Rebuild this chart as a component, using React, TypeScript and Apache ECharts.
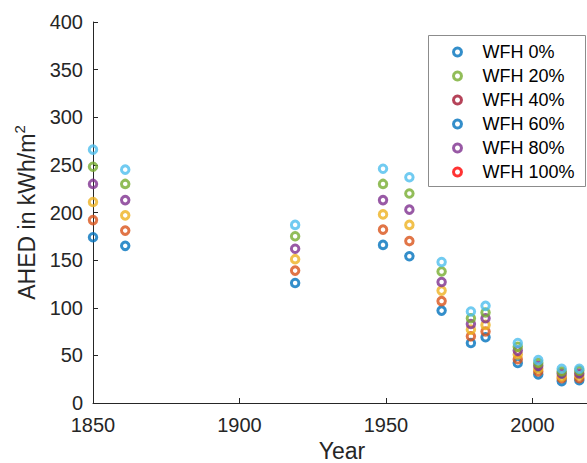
import React, { useEffect, useRef } from "react";
import * as echarts from "echarts";

const years = [1850, 1861, 1919, 1949, 1958, 1969, 1979, 1984, 1995, 2002, 2010, 2016];
const wfh0 = [174, 165, 126, 166, 154, 97, 63, 69, 42, 30, 23, 24];
const wfh20 = [192, 181, 139, 182, 170, 107, 70, 75, 46, 33, 26, 26];
const wfh40 = [211, 197, 151, 198, 187, 118, 77, 82, 51, 36, 28, 29];
const wfh60 = [230, 213, 162, 213, 203, 127, 83, 89, 55, 39, 31, 31];
const wfh80 = [248, 230, 175, 230, 220, 138, 89, 95, 59, 42, 33, 34];
const wfh100 = [266, 245, 187, 246, 237, 148, 96, 102, 63, 45, 36, 36];

const seriesNames = ["WFH 0%", "WFH 20%", "WFH 40%", "WFH 60%", "WFH 80%", "WFH 100%"];
const seriesValues = [wfh0, wfh20, wfh40, wfh60, wfh80, wfh100];
const markerColors = ["#0072BD", "#D95319", "#EDB120", "#7E2F8E", "#77AC30", "#4DBEEE"];
const legendColors = ["#0072BD", "#77AC30", "#A2142F", "#0072BD", "#7E2F8E", "#FF0000"];

const FONT = "Liberation Sans, Arial, Helvetica, sans-serif";
const AXIS = "#262626";

export default function App() {
  const ref = useRef<HTMLDivElement>(null);
  useEffect(() => {
    if (!ref.current) return;
    const chart = echarts.init(ref.current, undefined, { renderer: "svg" });
    chart.setOption({
      animation: false,
      backgroundColor: "#ffffff",
      textStyle: { fontFamily: FONT },
      grid: { left: 93, top: 22, width: 498, height: 381, containLabel: false, outerBoundsMode: "none" },
      xAxis: {
        type: "value",
        min: 1850,
        max: 2020,
        interval: 50,
        name: "Year",
        nameLocation: "middle",
        nameGap: 36,
        nameTextStyle: { fontSize: 23, lineHeight: 23, color: AXIS, fontFamily: FONT },
        axisLine: { show: true, lineStyle: { color: AXIS, width: 1 } },
        axisTick: { show: true, inside: true, length: 5, lineStyle: { color: AXIS } },
        axisLabel: {
          fontSize: 20,
          color: AXIS,
          margin: 12,
          fontFamily: FONT,
          formatter: (v: number) => (v % 50 === 0 ? String(v) : ""),
        },
        splitLine: { show: false },
      },
      yAxis: {
        type: "value",
        min: 0,
        max: 400,
        interval: 50,
        name: "{a|AHED in kWh/m}{b|2}",
        nameLocation: "middle",
        nameGap: 50,
        nameRotate: 90,
        nameTextStyle: {
          color: AXIS,
          fontFamily: FONT,
          rich: {
            a: { fontSize: 23, color: AXIS, fontFamily: FONT, lineHeight: 27, verticalAlign: "bottom" },
            b: { fontSize: 15, color: AXIS, fontFamily: FONT, lineHeight: 27, verticalAlign: "top" },
          },
        },
        axisLine: { show: true, lineStyle: { color: AXIS, width: 1 } },
        axisTick: { show: true, inside: true, length: 5, lineStyle: { color: AXIS } },
        axisLabel: { fontSize: 20, color: AXIS, margin: 10, fontFamily: FONT },
        splitLine: { show: false },
      },
      graphic: [
        {
          type: "rect",
          shape: { x: 428.5, y: 35.5, width: 157, height: 151 },
          style: { fill: "#ffffff", stroke: "#8c8c8c", lineWidth: 1 },
          z: 1,
          silent: true,
        },
      ],
      legend: {
        orient: "vertical",
        left: 452,
        top: 43,
        padding: 0,
        itemWidth: 40,
        itemHeight: 8,
        itemGap: 6,
        borderWidth: 0,
        z: 10,
        textStyle: { fontSize: 18, lineHeight: 18, color: "#000000", fontFamily: FONT },
        data: seriesNames.map((n, i) => ({
          name: n,
          icon: "circle",
          itemStyle: { color: "#ffffff", borderColor: legendColors[i], borderWidth: 3 },
        })),
      },
      series: seriesNames.map((n, i) => ({
        name: n,
        type: "scatter",
        symbol: "circle",
        symbolSize: 7.5,
        itemStyle: { color: "rgba(255,255,255,0)", borderColor: markerColors[i], borderWidth: 3 },
        emphasis: { disabled: true },
        data: years.map((y, j) => [y, seriesValues[i][j]]),
      })),
    });
    return () => chart.dispose();
  }, []);
  return (
    <div
      ref={ref}
      style={{ position: "fixed", left: 0, top: 0, width: 587, height: 463, background: "#fff" }}
    />
  );
}
